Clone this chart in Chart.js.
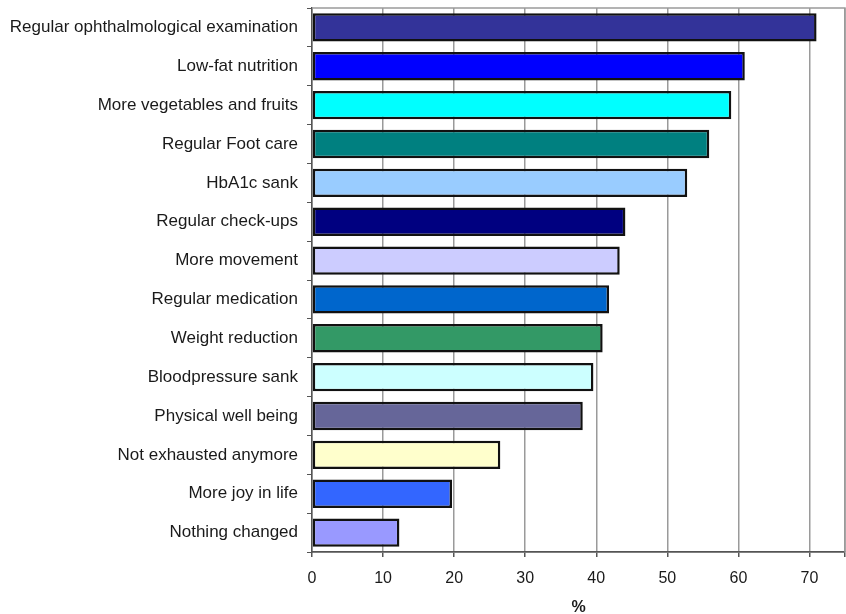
<!DOCTYPE html>
<html>
<head>
<meta charset="utf-8">
<script src="https://cdn.jsdelivr.net/npm/chart.js@4/dist/chart.umd.min.js"></script>
<style>
  html, body { margin: 0; padding: 0; background: #fff; }
  #wrap { width: 846px; height: 614px; position: relative; }
</style>
</head>
<body>
<div id="wrap"><canvas id="c" width="846" height="614"></canvas></div>
<script>
// Reported changes since the programme, share of respondents (%)
const categories = [
  'Regular ophthalmological examination',
  'Low-fat nutrition',
  'More vegetables and fruits',
  'Regular Foot care',
  'HbA1c sank',
  'Regular check-ups',
  'More movement',
  'Regular medication',
  'Weight reduction',
  'Bloodpressure sank',
  'Physical well being',
  'Not exhausted anymore',
  'More joy in life',
  'Nothing changed'
];
const percentValues = [71.0, 60.9, 59.0, 55.9, 52.8, 44.1, 43.3, 41.8, 40.9, 39.6, 38.1, 26.5, 19.7, 12.3];
const barColors = [
  '#333399', '#0000ff', '#00ffff', '#008080', '#99ccff', '#000080', '#ccccff',
  '#0066cc', '#339966', '#ccffff', '#666699', '#ffffcc', '#3366ff', '#9999ff'
];
const xTickValues = [0, 10, 20, 30, 40, 50, 60, 70];
const xAxisMax = 75;
const xAxisTitle = '%';

// Grey frame along the top and right edge of the plot area
const plotFrame = {
  id: 'plotFrame',
  beforeDatasetsDraw(chart) {
    const { ctx, chartArea: a } = chart;
    ctx.save();
    ctx.strokeStyle = '#9a9a9a';
    ctx.lineWidth = 1.5;
    ctx.beginPath();
    ctx.moveTo(a.left, a.top);
    ctx.lineTo(a.right, a.top);
    ctx.lineTo(a.right, a.bottom);
    ctx.stroke();
    ctx.restore();
  }
};

Chart.defaults.font.family = '"Liberation Sans", Arial, sans-serif';
Chart.defaults.color = '#1a1a1a';

new Chart(document.getElementById('c'), {
  type: 'bar',
  data: {
    labels: categories,
    datasets: [{
      data: percentValues,
      backgroundColor: barColors,
      borderColor: '#111111',
      borderWidth: 2.5,
      borderSkipped: false,
      categoryPercentage: 1.0,
      barPercentage: 0.73
    }]
  },
  options: {
    indexAxis: 'y',
    responsive: false,
    animation: false,
    layout: { padding: { top: 8, right: 1, left: 0, bottom: 0 } },
    plugins: { legend: { display: false }, tooltip: { enabled: false } },
    scales: {
      x: {
        type: 'linear',
        min: 0,
        max: xAxisMax,
        afterBuildTicks(scale) {
          scale.ticks = xTickValues.concat([xAxisMax]).map(v => ({ value: v }));
        },
        afterFit(scale) {
          scale.height = 62;
          scale.paddingLeft = 0;
          scale.paddingRight = 0;
        },
        ticks: {
          font: { size: 16 },
          padding: 12,
          maxRotation: 0,
          callback: v => (xTickValues.includes(v) ? String(v) : '')
        },
        grid: {
          color: '#9a9a9a',
          lineWidth: 1.5,
          tickLength: 5,
          tickColor: '#555555'
        },
        border: { color: '#555555', width: 1.8 },
        title: {
          display: true,
          text: xAxisTitle,
          font: { size: 16, weight: 'bold', lineHeight: 1 },
          padding: { top: 0, bottom: -2 }
        }
      },
      y: {
        afterFit(scale) {
          scale.width = 312;
          scale.paddingTop = 0;
          scale.paddingBottom = 0;
        },
        ticks: { font: { size: 17 }, padding: 9 },
        grid: {
          drawOnChartArea: false,
          offset: true,
          tickLength: 5,
          color: '#555555'
        },
        border: { color: '#555555', width: 1.5 }
      }
    }
  },
  plugins: [plotFrame]
});
</script>
</body>
</html>
